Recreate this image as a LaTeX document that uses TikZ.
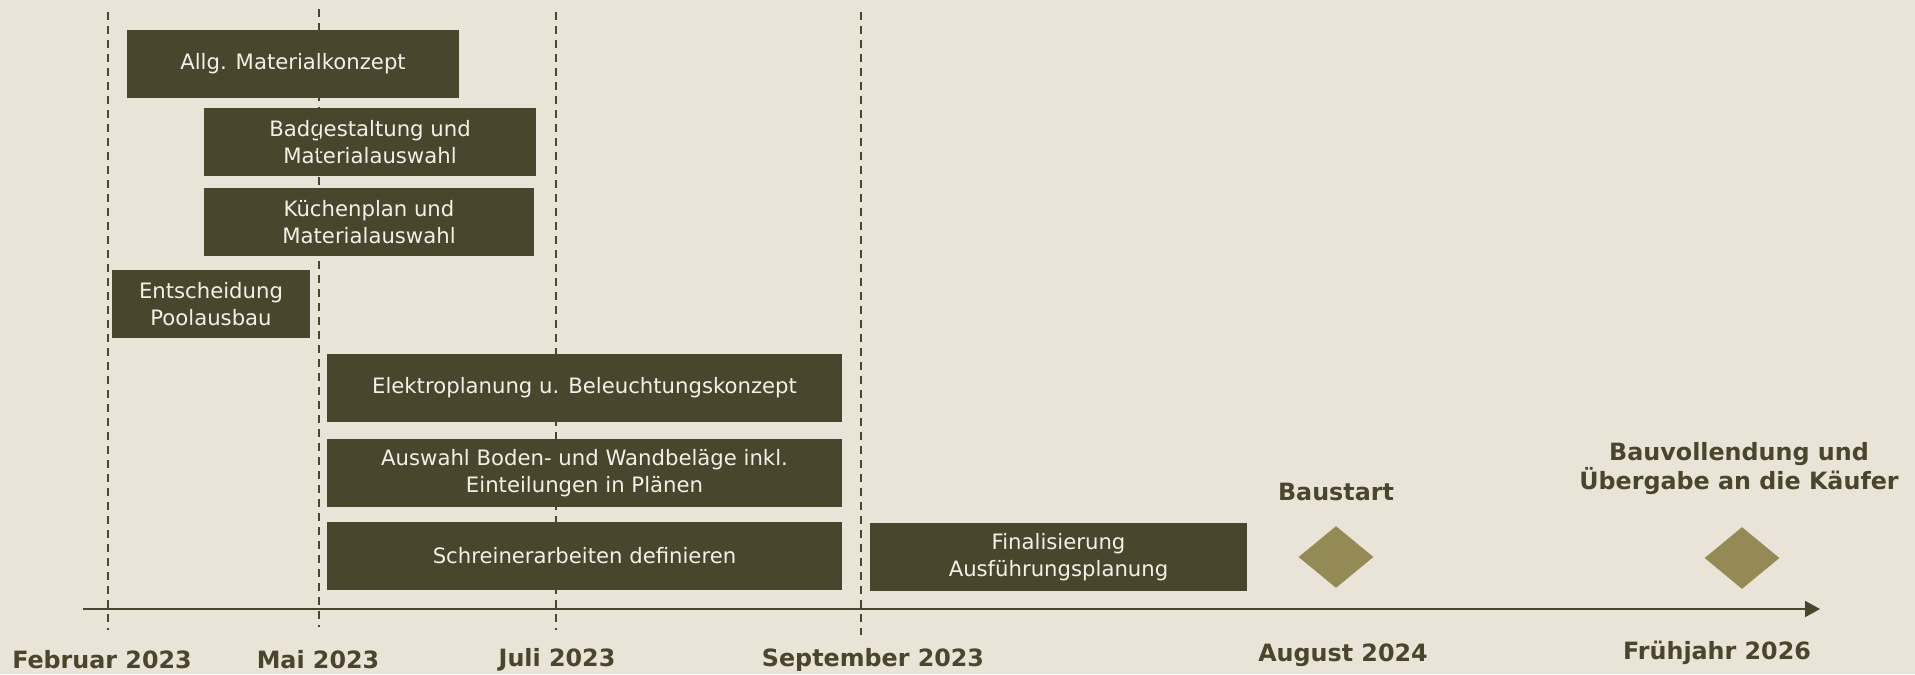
\documentclass[tikz,border=0pt]{standalone}
\usepackage{fontspec}
\setmainfont{DejaVu Sans}
\usetikzlibrary{shapes.geometric,arrows.meta}

\definecolor{bgc}{HTML}{EAE3D8}
\definecolor{boxc}{HTML}{4A452D}
\definecolor{boxtext}{HTML}{F4F0E8}
\definecolor{milec}{HTML}{948A55}
\definecolor{darkc}{HTML}{4A452D}

\tikzset{
  task/.style={fill=boxc, text=boxtext, align=center, inner sep=0pt,
    minimum height=34pt, font=\fontsize{10.6}{13.5}\selectfont},
  milestone/.style={shape=diamond, fill=milec, inner sep=0pt,
    minimum width=37.5pt, minimum height=31pt},
  datelabel/.style={text=darkc, font=\bfseries\fontsize{11.9}{14.5}\selectfont, align=center},
  monthline/.style={draw=darkc, line width=1pt, dash pattern=on 4pt off 3pt},
}

\begin{document}
\begin{tikzpicture}[x=0.5pt, y=-0.5pt]

  \fill[bgc] (0,0) rectangle (1915,674);
  \useasboundingbox (0,0) rectangle (1915,674);

  \coordinate (feb top) at (108,12);   \coordinate (feb bot) at (108,630);
  \coordinate (mai top) at (319,9);    \coordinate (mai bot) at (319,627);
  \coordinate (jul top) at (556,12);   \coordinate (jul bot) at (556,630);
  \coordinate (sep top) at (861,12);   \coordinate (sep bot) at (861,635);

  \path[monthline] (feb top) -- (feb bot);
  \path[monthline] (mai top) -- (mai bot);
  \path[monthline] (jul top) -- (jul bot);
  \path[monthline] (sep top) -- (sep bot);

  \node[task, minimum width=166pt] (allg) at (293,64) {Allg. Materialkonzept};
  \node[task, minimum width=166pt] (bad) at (370,142) {Badgestaltung und\\Materialauswahl};
  \node[task, minimum width=165pt] (kueche) at (369,222) {Küchenplan und\\Materialauswahl};
  \node[task, minimum width=99pt] (pool) at (211,304) {Entscheidung\\Poolausbau};
  \node[task, minimum width=257.5pt] (elektro) at (584.5,388) {Elektroplanung u. Beleuchtungskonzept};
  \node[task, minimum width=257.5pt] (boden) at (584.5,473) {Auswahl Boden- und Wandbeläge inkl.\\Einteilungen in Plänen};
  \node[task, minimum width=257.5pt] (schrein) at (584.5,556) {Schreinerarbeiten definieren};
  \node[task, minimum width=188.5pt] (final) at (1058.5,557) {Finalisierung\\Ausführungsplanung};

  % Mai line runs over the Bad box
  \begin{scope}
    \clip (bad.south west) rectangle (bad.north east);
    \path[monthline] (mai top) -- (mai bot);
  \end{scope}

  \node[milestone] (baustart) at (1336,557) {};
  \node[milestone] (ende) at (1742,558) {};
  \node[datelabel] (baustart label) at (1336,492) {Baustart};
  \node[datelabel] (ende label) at (1739,469) {Bauvollendung und\\Übergabe an die Käufer};

  \coordinate (axis start) at (83,609);
  \coordinate (axis end) at (1820,609);
  \draw[darkc, line width=1pt, -{Triangle[length=7.5pt, width=8pt]}] (axis start) -- (axis end);

  \node[datelabel] (feb) at (102,660) {Februar 2023};
  \node[datelabel] (mai) at (318,660) {Mai 2023};
  \node[datelabel] (jul) at (557,660) {Juli 2023};
  \node[datelabel] (sep) at (873,660) {September 2023};
  \node[datelabel] (aug) at (1343,655) {August 2024};
  \node[datelabel] (fj) at (1717,653) {Frühjahr 2026};

\end{tikzpicture}
\end{document}
